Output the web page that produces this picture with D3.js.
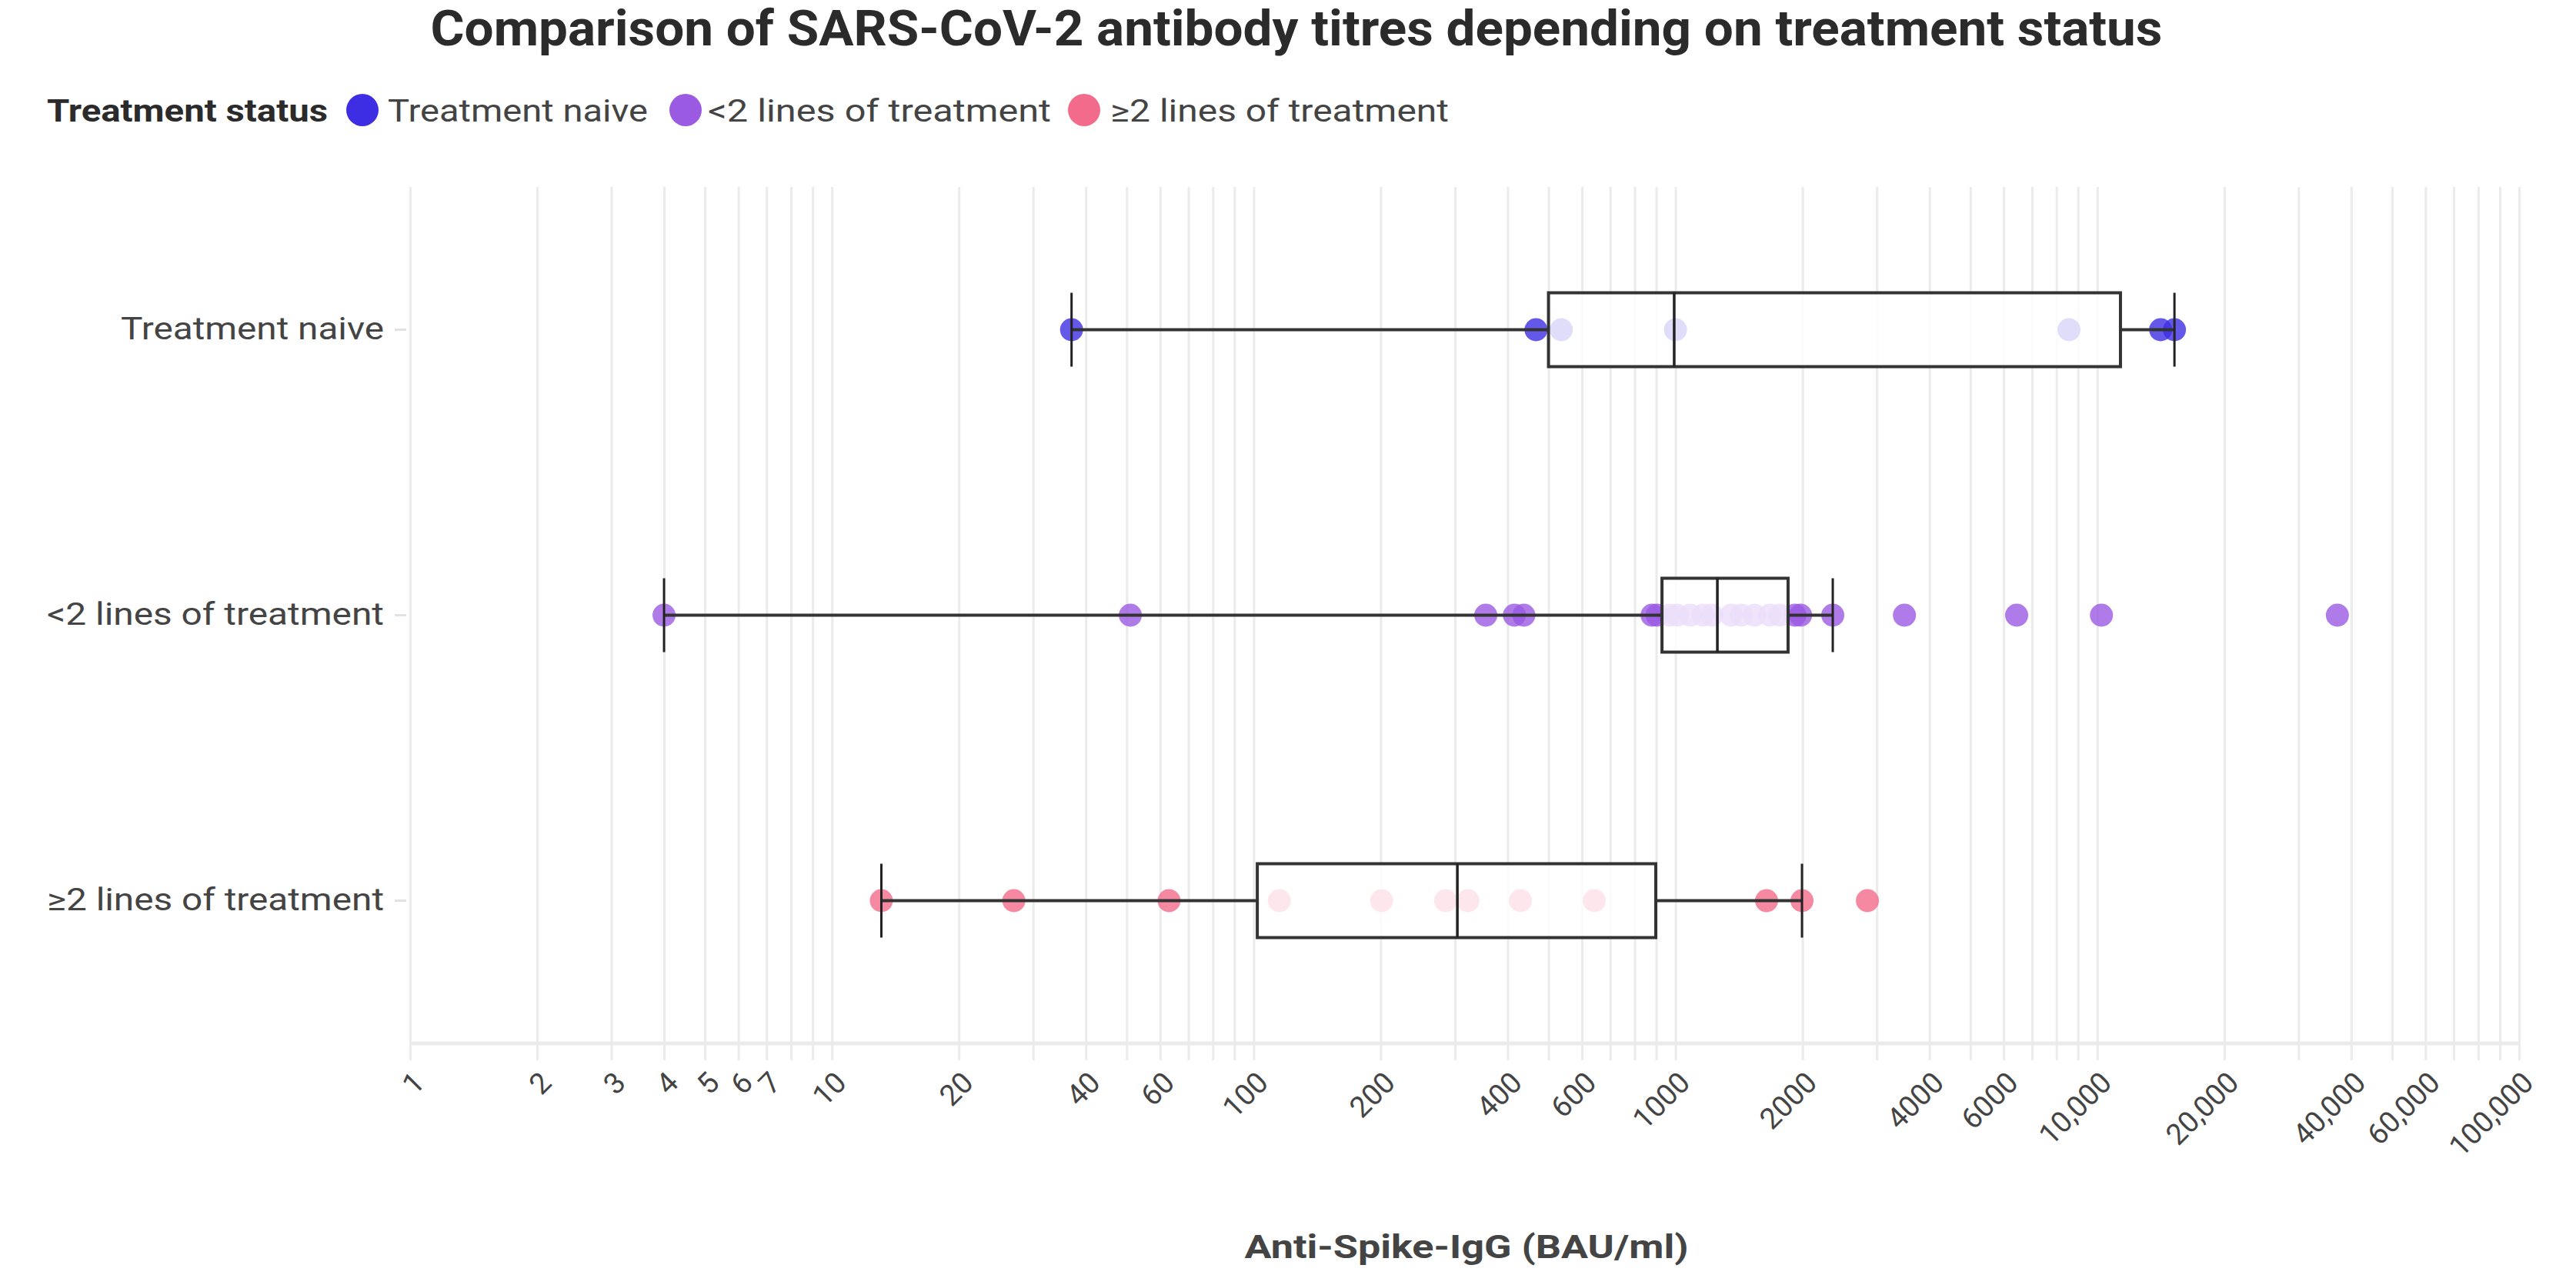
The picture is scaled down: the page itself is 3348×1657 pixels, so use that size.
<!DOCTYPE html>
<html>
<head>
<meta charset="utf-8">
<script src="https://cdn.jsdelivr.net/npm/d3@7"></script>
<style>
  html, body { margin: 0; padding: 0; background: #ffffff; }
  svg { display: block; }
  text { font-family: Roboto, "Noto Sans", sans-serif; }
</style>
</head>
<body>
<div id="chart"></div>
<script>
// ---------- Data ----------
const categories = ["Treatment naive", "<2 lines of treatment", "\u22652 lines of treatment"];
const seriesColors = ["#3d2ee3", "#9a5ae2", "#f26b8b"];

// individual measurements, Anti-Spike-IgG (BAU/ml)
const naivePoints = [37, 467, 536, 1000, 8570, 14130, 15240];
const lessThan2Points = [4, 51, 355, 415, 437, 880, 905, 968, 1010, 1084, 1161, 1220, 1355, 1432,
                         1538, 1673, 1766, 1920, 1980, 2360, 3490, 6440, 10230, 37090];
const atLeast2Points = [13.1, 27, 63, 115, 201, 285, 322, 429, 642, 1644, 1995, 2851];

// box statistics per category (same order as categories)
const lowerWhisker = [37, 4, 13.1];
const q1Values = [500, 929, 102];
const medianValues = [993, 1257, 304];
const q3Values = [11350, 1849, 898];
const upperWhisker = [15240, 2360, 1995];

const tickValues = [1, 2, 3, 4, 5, 6, 7, 10, 20, 40, 60, 100, 200, 400, 600, 1000, 2000, 4000, 6000,
                    10000, 20000, 40000, 60000, 100000];
const yLabelLengths = [342, 438, 438];

const titleText = "Comparison of SARS-CoV-2 antibody titres depending on treatment status";
const legendTitle = "Treatment status";
const xAxisTitle = "Anti-Spike-IgG (BAU/ml)";

// ---------- Layout ----------
const W = 3348, H = 1657;
const plot = { left: 533, right: 3274, top: 243, bottom: 1356 };

const svg = d3.select("#chart").append("svg").attr("width", W).attr("height", H)
  .style("background", "#fff");

const x = d3.scaleLog().domain([1, 100000]).range([plot.left, plot.right]);
const y = d3.scaleBand().domain(categories).range([plot.top, plot.bottom]).padding(0);
const yc = c => y(c) + y.bandwidth() / 2;

// gridlines: every log minor value
const gridVals = [];
for (let e = 0; e < 5; e++) for (let m = 1; m < 10; m++) gridVals.push(m * Math.pow(10, e));
gridVals.push(100000);

const grid = svg.append("g").attr("transform", `translate(0,${plot.top})`)
  .call(d3.axisBottom(x).tickValues(gridVals).tickSize(1378 - plot.top).tickFormat(""));
grid.select(".domain").remove();
grid.selectAll("line").attr("stroke", "#ebebeb").attr("stroke-width", 3);

// x axis line
svg.append("line").attr("x1", plot.left).attr("x2", plot.right)
  .attr("y1", plot.bottom).attr("y2", plot.bottom)
  .attr("stroke", "#ebebeb").attr("stroke-width", 5);

// x tick labels
const fmt = v => v >= 10000 ? d3.format(",")(v) : String(v);
const xAxis = svg.append("g").attr("transform", `translate(0,1400)`)
  .call(d3.axisBottom(x).tickValues(tickValues).tickSize(0).tickPadding(0).tickFormat(fmt));
xAxis.select(".domain").remove();
xAxis.selectAll("text")
  .attr("font-size", 38).attr("fill", "#444")
  .attr("text-anchor", "end").attr("y", 0).attr("dy", "0.35em")
  .attr("transform", "translate(11,0) rotate(-45)")
  .style("font-family", "Roboto, sans-serif");

// y axis labels + small ticks
const yAxis = svg.append("g").attr("transform", `translate(${plot.left},0)`)
  .call(d3.axisLeft(y).tickSize(18).tickPadding(16));
yAxis.select(".domain").remove();
yAxis.selectAll("line").attr("stroke", "#e2e2e2").attr("stroke-width", 3).attr("x2", -5);
yAxis.selectAll("line").attr("x1", -20);
yAxis.selectAll("text").attr("font-size", 40).attr("fill", "#444")
  .attr("x", -34)
  .attr("textLength", (d, i) => yLabelLengths[i]).attr("lengthAdjust", "spacingAndGlyphs")
  .style("font-family", "Roboto, sans-serif");

// ---------- Marks ----------
const allPoints = [naivePoints, lessThan2Points, atLeast2Points];
const R = 15;

// points
categories.forEach((c, i) => {
  svg.append("g").selectAll("circle").data(allPoints[i]).join("circle")
    .attr("cx", d => x(d)).attr("cy", yc(c)).attr("r", R)
    .attr("fill", seriesColors[i]).attr("fill-opacity", 0.8);
});

const boxH = 96;
const boxes = svg.append("g");
categories.forEach((c, i) => {
  const cy = yc(c);
  // box (white veil over points inside)
  boxes.append("rect")
    .attr("x", x(q1Values[i])).attr("y", cy - boxH / 2)
    .attr("width", x(q3Values[i]) - x(q1Values[i])).attr("height", boxH)
    .attr("fill", "#fff").attr("fill-opacity", 0.8)
    .attr("stroke", "#333").attr("stroke-width", 4);
  // whiskers
  boxes.append("line").attr("x1", x(lowerWhisker[i])).attr("x2", x(q1Values[i]))
    .attr("y1", cy).attr("y2", cy).attr("stroke", "#333").attr("stroke-width", 4);
  boxes.append("line").attr("x1", x(q3Values[i])).attr("x2", x(upperWhisker[i]))
    .attr("y1", cy).attr("y2", cy).attr("stroke", "#333").attr("stroke-width", 4);
  // caps
  [lowerWhisker[i], upperWhisker[i]].forEach(v => {
    boxes.append("line").attr("x1", x(v)).attr("x2", x(v))
      .attr("y1", cy - boxH / 2).attr("y2", cy + boxH / 2)
      .attr("stroke", "#222").attr("stroke-width", 3);
  });
  // median
  boxes.append("line").attr("x1", x(medianValues[i])).attr("x2", x(medianValues[i]))
    .attr("y1", cy - boxH / 2).attr("y2", cy + boxH / 2)
    .attr("stroke", "#222").attr("stroke-width", 3.5);
});

// ---------- Title ----------
svg.append("text").attr("x", 1685).attr("y", 59).attr("text-anchor", "middle")
  .attr("font-size", 64).attr("font-weight", 700).attr("fill", "#2b2b2b")
  .attr("textLength", 2251).attr("lengthAdjust", "spacingAndGlyphs")
  .text(titleText);

// ---------- Legend ----------
const legend = svg.append("g");
legend.append("text").attr("x", 61).attr("y", 158)
  .attr("font-size", 40).attr("font-weight", 700).attr("fill", "#2b2b2b")
  .attr("textLength", 365).attr("lengthAdjust", "spacingAndGlyphs")
  .text(legendTitle);
const legendDotX = [471, 891, 1409];
const legendTextX = [504, 920, 1443];
const legendTextLen = [338, 446, 440];
categories.forEach((c, i) => {
  legend.append("circle").attr("cx", legendDotX[i]).attr("cy", 143).attr("r", 21)
    .attr("fill", seriesColors[i]);
  legend.append("text").attr("x", legendTextX[i]).attr("y", 158)
    .attr("font-size", 40).attr("fill", "#444")
    .attr("textLength", legendTextLen[i]).attr("lengthAdjust", "spacingAndGlyphs")
    .text(c);
});

// ---------- X axis title ----------
svg.append("text").attr("x", 1906).attr("y", 1635).attr("text-anchor", "middle")
  .attr("font-size", 42).attr("font-weight", 700).attr("fill", "#444")
  .attr("textLength", 577).attr("lengthAdjust", "spacingAndGlyphs")
  .text(xAxisTitle);
</script>
</body>
</html>
